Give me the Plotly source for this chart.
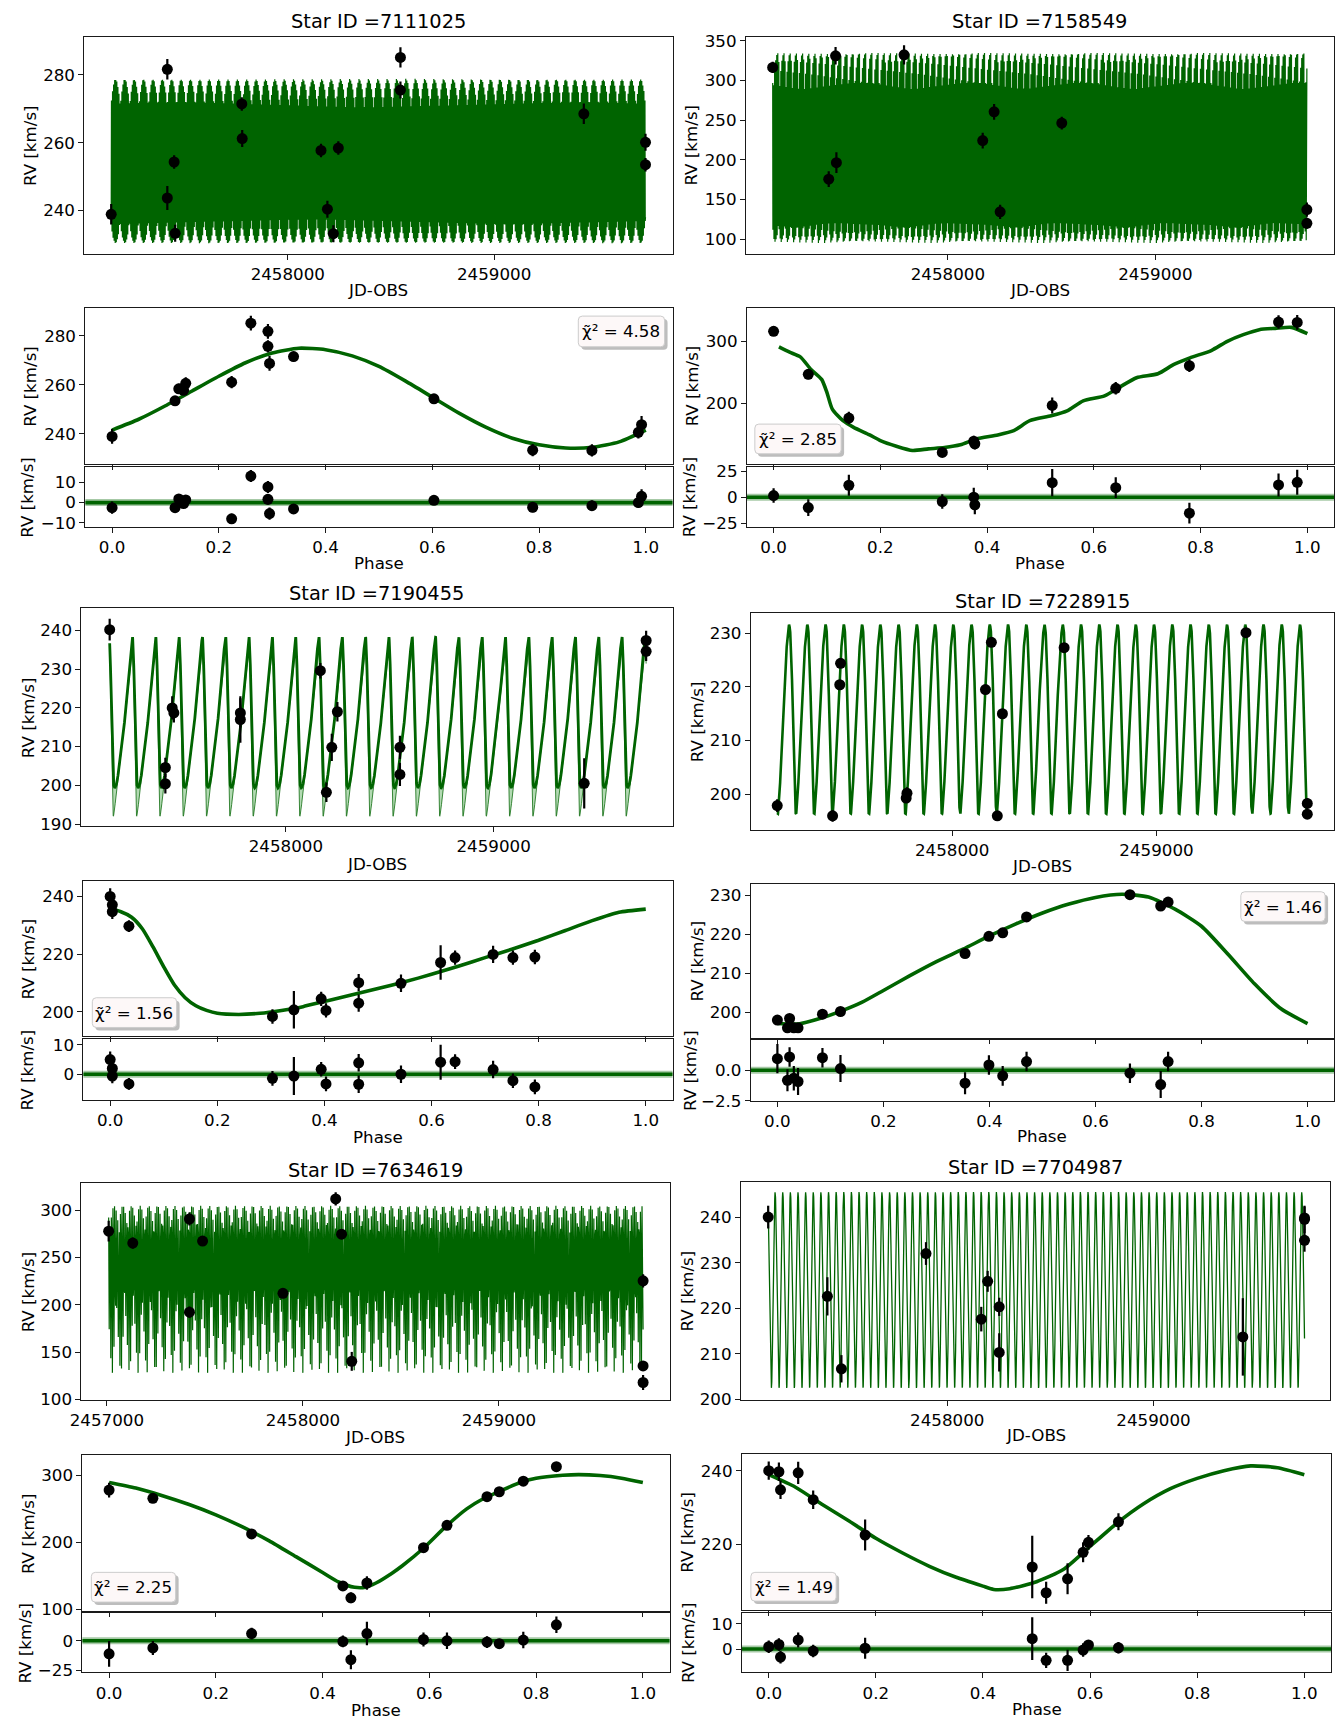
import numpy as np
import plotly.graph_objects as go

W, H = 1340, 1730
GREEN = "#006400"

# ======================= DATA =======================
star_ids = ["7111025", "7158549", "7190455", "7228915", "7634619", "7704987"]
chi2_values = ["4.58", "2.85", "1.56", "1.46", "2.25", "1.49"]

# ---- Star 7111025 ----
s1_jd = [2457144, 2457416, 2457416, 2457449, 2457454, 2457777, 2457779, 2458161,
         2458192, 2458221, 2458245, 2458546, 2458546, 2459435, 2459734, 2459734]
s1_rv = [238.9, 281.6, 243.7, 254.3, 233.3, 271.4, 261.2, 257.7,
         240.4, 233.2, 258.4, 285.1, 275.5, 268.5, 260.1, 253.5]
s1_rv_err = [3.0, 3.0, 3.5, 2.0, 2.5, 2.0, 2.5, 2.0, 2.5, 2.5, 2.0, 3.0, 2.5, 3.0, 2.5, 2.0]
s1_phase = [0.0, 0.118, 0.125, 0.134, 0.138, 0.224, 0.260, 0.292,
            0.292, 0.295, 0.340, 0.603, 0.788, 0.899, 0.986, 0.992]
s1_phase_rv = [239.0, 253.5, 258.4, 257.8, 260.6, 261.1, 285.1, 281.8,
               275.7, 268.7, 271.5, 254.3, 233.4, 233.3, 240.7, 243.8]
s1_phase_err = [3.0, 2.0, 2.0, 2.0, 2.5, 2.5, 3.0, 3.0, 2.5, 3.0, 2.0, 2.0, 2.5, 2.5, 2.5, 3.5]
s1_resid = [-2.5, -2.5, 1.8, -0.5, 1.3, -8.0, 13.1, 7.7, 1.6, -5.4, -3.1, 1.1, -2.3, -1.5, 0.0, 3.1]
s1_model_phase = [0.0, 0.05, 0.10, 0.15, 0.20, 0.25, 0.30, 0.35, 0.40, 0.45, 0.50,
                  0.55, 0.60, 0.65, 0.70, 0.75, 0.80, 0.85, 0.90, 0.95, 1.0]
s1_model_rv = [241.6, 246.0, 251.5, 257.5, 263.5, 269.0, 273.0, 274.9, 274.3, 271.8, 267.5,
               261.5, 255.0, 248.5, 242.8, 238.3, 235.6, 234.3, 234.6, 236.8, 241.6]
s1_ts_model_rv = [239.1, 244.4, 250.9, 258.1, 265.2, 271.7, 276.5, 278.8, 278.0, 275.1, 270.0,
                  262.8, 255.1, 247.3, 240.6, 235.2, 232.0, 230.4, 230.8, 233.4, 239.1]
s1_period = 5.039
s1_t0 = 2457144

# ---- Star 7158549 ----
s2_jd = [2457156, 2457426, 2457459, 2457463, 2457789, 2458168, 2458223, 2458252,
         2458549, 2459730, 2459730]
s2_rv = [316.7, 175.7, 331.3, 196.5, 332.5, 224.4, 260.6, 134.5, 246.4, 137.4, 120.0]
s2_rv_err = [7, 10, 11, 13, 12, 10, 10, 9, 8, 9, 7]
s2_phase = [0.0, 0.065, 0.141, 0.316, 0.375, 0.377, 0.522, 0.641, 0.779, 0.946, 0.981]
s2_phase_rv = [316.6, 247.1, 176.5, 120.9, 139.0, 134.8, 196.8, 224.6, 261.0, 331.6, 331.0]
s2_phase_err = [7, 8, 10, 7, 9, 9, 13, 10, 10, 11, 12]
s2_resid = [1.6, -9.9, 11.5, -4.1, 0.0, -7.3, 14.0, 9.2, -15.3, 11.8, 14.3]
s2_model_phase = [0.01, 0.03, 0.05, 0.07, 0.09, 0.10, 0.11, 0.13, 0.15, 0.18, 0.20, 0.23,
                  0.26, 0.29, 0.32, 0.35, 0.38, 0.42, 0.45, 0.48, 0.52, 0.55, 0.58, 0.62,
                  0.65, 0.68, 0.72, 0.75, 0.78, 0.82, 0.85, 0.88, 0.91, 0.94, 0.97, 1.0]
s2_model_rv = [291.4, 282.9, 275.4, 255.1, 239.0, 217.6, 190.9, 172.2, 161.5, 149.2, 140.1, 131.0,
               124.1, 126.7, 128.9, 133.2, 142.8, 149.2, 156.1, 172.2, 180.2, 188.2, 204.3, 212.3,
               227.3, 241.7, 248.1, 263.1, 273.8, 285.6, 300.5, 311.2, 319.3, 321.4, 323.0, 312.8]
s2_ts_model_rv = [296.9, 286.6, 277.6, 253.1, 233.7, 207.9, 175.7, 153.1, 140.2, 125.4, 114.4, 103.4,
                  95.1, 98.3, 100.9, 106.1, 117.7, 125.4, 133.7, 153.1, 162.8, 172.4, 191.8, 201.5,
                  219.6, 236.9, 244.7, 262.8, 275.7, 289.9, 307.9, 320.8, 330.5, 333.1, 335.0, 322.7]
s2_period = 4.98
s2_t0 = 2457156

# ---- Star 7190455 ----
s3_jd = [2457152, 2457420, 2457420, 2457453, 2457461, 2457781, 2457781, 2458166,
         2458195, 2458221, 2458248, 2458549, 2458549, 2459436, 2459734, 2459734]
s3_rv = [240.2, 204.6, 200.4, 220.0, 218.7, 218.7, 217.0, 229.6,
         198.2, 209.8, 219.0, 209.8, 202.8, 200.5, 237.4, 234.6]
s3_rv_err = [2.8, 2.5, 2.5, 3.0, 2.5, 3.8, 6.0, 2.0, 2.5, 3.5, 2.5, 3.0, 3.0, 6.5, 2.5, 2.5]
s3_phase = [0.0, 0.004, 0.004, 0.035, 0.303, 0.343, 0.394, 0.403,
            0.464, 0.464, 0.543, 0.617, 0.644, 0.715, 0.752, 0.793]
s3_phase_rv = [240.0, 237.1, 234.7, 229.7, 198.4, 200.7, 204.5, 200.5,
               210.1, 203.0, 209.9, 217.1, 218.8, 219.9, 218.8, 219.0]
s3_phase_err = [2.8, 2.5, 2.5, 2.0, 2.5, 6.5, 2.5, 2.5, 3.0, 3.0, 3.0, 6.0, 2.5, 3.0, 2.5, 2.5]
s3_resid = [5.0, 2.0, -0.6, -3.3, -1.4, -0.6, 1.7, -3.3, 3.9, -3.4, 0.0, 4.1, 4.3, 1.6, -2.2, -4.3]
s3_model_phase = [0.0, 0.02, 0.04, 0.06, 0.08, 0.10, 0.12, 0.14, 0.16, 0.18, 0.20, 0.24, 0.28,
                  0.32, 0.36, 0.40, 0.45, 0.50, 0.55, 0.60, 0.65, 0.70, 0.75, 0.80, 0.85,
                  0.90, 0.95, 1.0]
s3_model_rv = [235.6, 234.7, 232.8, 228.8, 222.5, 215.6, 209.3, 204.9, 202.1, 200.5, 199.5, 199.1,
               199.5, 200.5, 201.8, 203.6, 205.8, 208.1, 210.4, 213.0, 215.8, 218.8, 221.7, 224.8,
               228.2, 231.6, 234.5, 235.6]
s3_ts_model_rv = [238.3, 236.5, 233.5, 228.8, 222.5, 215.6, 209.3, 205.0, 202.3, 200.6, 199.7, 199.3,
                  199.7, 200.6, 201.9, 203.7, 205.9, 208.2, 210.6, 213.2, 216.1, 219.2, 222.4, 225.8,
                  229.5, 233.2, 236.6, 238.3]
s3_ts_band_rv = [235.6, 233.5, 229.5, 223.0, 214.5, 205.5, 198.0, 194.0, 192.3, 192.0, 192.6, 194.5,
                 196.5, 198.5, 200.3, 202.3, 204.8, 207.3, 209.8, 212.5, 215.4, 218.4, 221.5, 224.6,
                 228.0, 231.4, 234.2, 235.6]
s3_period = 112.2
s3_t0 = 2457150

# ---- Star 7228915 ----
s4_jd = [2457144, 2457415, 2457450, 2457454, 2457775, 2457779, 2458163,
         2458192, 2458221, 2458246, 2458548, 2459438, 2459738, 2459738]
s4_rv = [197.9, 196.0, 220.4, 224.4, 199.3, 200.2, 219.5,
         228.3, 196.0, 215.0, 227.3, 230.1, 198.3, 196.3]
s4_rv_err = [1.2, 1.1, 0.8, 0.8, 0.8, 1.1, 0.8, 0.8, 0.9, 0.9, 0.8, 0.8, 1.0, 0.8]
s4_phase = [0.0, 0.019, 0.023, 0.031, 0.039, 0.085, 0.119,
            0.354, 0.399, 0.425, 0.470, 0.665, 0.723, 0.737]
s4_phase_rv = [198.0, 196.0, 198.4, 196.0, 196.0, 199.5, 200.2,
               215.1, 219.5, 220.4, 224.5, 230.2, 227.3, 228.3]
s4_phase_err = [1.2, 0.9, 0.8, 1.0, 1.1, 0.8, 1.1, 0.9, 0.8, 0.8, 0.8, 0.8, 1.1, 0.8]
s4_resid = [0.95, -0.82, 1.09, -0.65, -0.92, 1.03, 0.14, -1.06, 0.43, -0.46, 0.71, -0.24, -1.17, 0.71]
s4_model_phase = [0.0, 0.04, 0.08, 0.12, 0.16, 0.20, 0.25, 0.30, 0.35, 0.40, 0.45, 0.50,
                  0.55, 0.60, 0.65, 0.70, 0.75, 0.80, 0.85, 0.90, 0.95, 1.0]
s4_model_rv = [197.1, 197.0, 198.4, 200.3, 202.6, 205.6, 209.4, 213.0, 216.2, 219.6, 222.7, 225.5,
               227.8, 229.5, 230.3, 229.6, 226.5, 222.1, 214.9, 207.3, 200.9, 197.1]
s4_ts_model_rv = [196.5, 196.4, 197.9, 199.9, 202.3, 205.5, 209.5, 213.3, 216.7, 220.3, 223.6, 226.5,
                  229.0, 230.8, 231.6, 230.9, 227.6, 222.9, 215.3, 207.3, 200.5, 196.5]
s4_period = 89.3
s4_t0 = 2457144

# ---- Star 7634619 ----
s5_jd = [2457009, 2457132, 2457421, 2457421, 2457488, 2457898, 2458167, 2458197,
         2458249, 2459735, 2459735, 2459735]
s5_rv = [278.0, 265.4, 290.9, 192.3, 267.5, 212.2, 312.2, 274.8, 140.2, 225.5, 135.3, 117.8]
s5_rv_err = [11, 6, 7, 6, 5, 5, 7, 3, 10, 7, 5, 8]
s5_phase = [0.0, 0.082, 0.267, 0.438, 0.453, 0.483, 0.589, 0.633, 0.708, 0.731, 0.776, 0.838]
s5_phase_rv = [277.9, 265.6, 212.5, 134.9, 117.2, 139.3, 191.9, 225.3, 268.1, 275.4, 291.2, 312.8]
s5_phase_err = [11, 6, 5, 5, 8, 10, 6, 7, 5, 3, 7, 7]
s5_resid = [-11.1, -6.1, 6.1, -0.6, -16.1, 6.1, 1.1, 0.0, -1.1, -2.5, 0.6, 13.6]
s5_model_phase = [0.0, 0.05, 0.10, 0.15, 0.20, 0.25, 0.30, 0.35, 0.40, 0.43, 0.46, 0.48, 0.50,
                  0.53, 0.55, 0.59, 0.63, 0.67, 0.70, 0.73, 0.77, 0.80, 0.85, 0.88, 0.92,
                  0.96, 1.0]
s5_model_rv = [289.2, 280.8, 269.5, 256.3, 241.0, 222.9, 202.2, 178.6, 155.0, 140.8, 132.9, 132.9,
               139.3, 154.0, 165.4, 191.9, 222.9, 249.9, 264.6, 275.4, 289.2, 295.6, 300.0, 301.0,
               299.5, 295.6, 289.2]
s5_ts_model_rv = [292.6, 283.7, 271.8, 257.9, 241.8, 222.8, 201.0, 176.1, 151.3, 136.3, 128.0, 128.0,
                  134.7, 150.2, 162.2, 190.1, 222.8, 251.2, 266.7, 278.1, 292.6, 299.3, 304.0, 305.0,
                  303.4, 299.3, 292.6]
s5_period = 7.71
s5_t0 = 2457009

# ---- Star 7704987 ----
s6_jd = [2457132, 2457419, 2457487, 2457897, 2458165, 2458196, 2458252, 2458252,
         2459433, 2459732, 2459732, 2459732]
s6_rv = [240.0, 222.6, 206.7, 232.0, 217.6, 225.9, 220.3, 210.3, 213.7, 239.8, 239.5, 234.9]
s6_rv_err = [2.5, 4.2, 3.0, 2.5, 2.7, 2.3, 2.0, 4.2, 8.5, 2.5, 3.0, 2.5]
s6_phase = [0.0, 0.019, 0.022, 0.055, 0.083, 0.180, 0.492, 0.518, 0.558, 0.587, 0.597, 0.653]
s6_phase_rv = [240.0, 239.7, 234.8, 239.4, 232.1, 222.5, 213.8, 206.8, 210.6, 217.8, 220.5, 226.1]
s6_phase_err = [2.5, 2.5, 2.5, 3.0, 2.5, 4.2, 8.5, 3.0, 4.2, 2.7, 2.0, 2.3]
s6_resid = [0.9, 1.8, -3.2, 3.6, -0.8, 0.3, 4.1, -4.5, -4.5, -0.4, 1.6, 0.5]
s6_model_phase = [0.0, 0.05, 0.10, 0.15, 0.20, 0.25, 0.30, 0.35, 0.40, 0.42, 0.45, 0.50,
                  0.55, 0.60, 0.65, 0.70, 0.75, 0.80, 0.85, 0.90, 0.95, 1.0]
s6_model_rv = [238.9, 235.5, 230.8, 226.3, 221.6, 217.6, 214.0, 211.0, 208.6, 207.7, 207.9, 209.8,
               213.1, 219.4, 225.7, 231.0, 235.1, 237.9, 240.0, 241.3, 240.8, 238.9]
s6_ts_model_rv = [242.4, 238.1, 232.1, 226.3, 220.3, 215.2, 210.6, 206.7, 203.7, 202.5, 202.8, 205.2,
                  209.4, 217.5, 225.5, 232.3, 237.6, 241.2, 243.8, 245.5, 244.9, 242.4]
s6_period = 37.0
s6_t0 = 2457132

stars = [
    dict(jd=s1_jd, rv=s1_rv, err=s1_rv_err, ph=s1_phase, prv=s1_phase_rv, perr=s1_phase_err,
         res=s1_resid, mph=s1_model_phase, mrv=s1_model_rv, tsrv=s1_ts_model_rv, band=None,
         P=s1_period, t0=s1_t0),
    dict(jd=s2_jd, rv=s2_rv, err=s2_rv_err, ph=s2_phase, prv=s2_phase_rv, perr=s2_phase_err,
         res=s2_resid, mph=s2_model_phase, mrv=s2_model_rv, tsrv=s2_ts_model_rv, band=None,
         P=s2_period, t0=s2_t0),
    dict(jd=s3_jd, rv=s3_rv, err=s3_rv_err, ph=s3_phase, prv=s3_phase_rv, perr=s3_phase_err,
         res=s3_resid, mph=s3_model_phase, mrv=s3_model_rv, tsrv=s3_ts_model_rv, band=s3_ts_band_rv,
         P=s3_period, t0=s3_t0),
    dict(jd=s4_jd, rv=s4_rv, err=s4_rv_err, ph=s4_phase, prv=s4_phase_rv, perr=s4_phase_err,
         res=s4_resid, mph=s4_model_phase, mrv=s4_model_rv, tsrv=s4_ts_model_rv, band=None,
         P=s4_period, t0=s4_t0),
    dict(jd=s5_jd, rv=s5_rv, err=s5_rv_err, ph=s5_phase, prv=s5_phase_rv, perr=s5_phase_err,
         res=s5_resid, mph=s5_model_phase, mrv=s5_model_rv, tsrv=s5_ts_model_rv, band=None,
         P=s5_period, t0=s5_t0),
    dict(jd=s6_jd, rv=s6_rv, err=s6_rv_err, ph=s6_phase, prv=s6_phase_rv, perr=s6_phase_err,
         res=s6_resid, mph=s6_model_phase, mrv=s6_model_rv, tsrv=s6_ts_model_rv, band=None,
         P=s6_period, t0=s6_t0),
]

# ======================= STYLE / LAYOUT (pixels) =======================
ts_style = [
    dict(n=2000, width=1.2),
    dict(n=2500, width=1.2),
    dict(n=9000, width=2.8),
    dict(n=9000, width=2.6),
    dict(n=1000, width=1.2),
    dict(n=9000, width=1.3),
]

# boxes: (left, top, right, bottom)
geom = [
    dict(ts=(74, 31, 667, 250), ph=(75, 305, 667, 462), rs=(75, 465, 667, 526),
         title_y=16, jd_y=287, phl_y=562, lab_x=(19, 19, 16),
         chi=(572, 313, 659, 344)),
    dict(ts=(741, 31, 1334, 250), ph=(742, 305, 1334, 462), rs=(742, 465, 1334, 526),
         title_y=16, jd_y=287, phl_y=562, lab_x=(686, 687, 684),
         chi=(750, 422, 837, 452)),
    dict(ts=(71, 608, 667, 828), ph=(73, 883, 667, 1040), rs=(73, 1043, 667, 1104),
         title_y=593, jd_y=866, phl_y=1142, lab_x=(17, 17, 16),
         chi=(82, 1001, 167, 1031)),
    dict(ts=(746, 613, 1334, 832), ph=(746, 886, 1334, 1042), rs=(746, 1044, 1334, 1105),
         title_y=601, jd_y=868, phl_y=1141, lab_x=(691, 692, 684),
         chi=(1240, 894, 1325, 924)),
    dict(ts=(71, 1188, 664, 1407), ph=(72, 1463, 664, 1620), rs=(72, 1622, 664, 1682),
         title_y=1175, jd_y=1444, phl_y=1720, lab_x=(17, 17, 14),
         chi=(81, 1581, 166, 1611)),
    dict(ts=(736, 1187, 1330, 1407), ph=(737, 1462, 1331, 1619), rs=(737, 1622, 1331, 1682),
         title_y=1172, jd_y=1442, phl_y=1719, lab_x=(682, 682, 682),
         chi=(746, 1581, 832, 1610)),
]

ranges = [
    dict(tsx=[2457014, 2459865], tsy=[227.3, 291.2], tsyt=[240, 260, 280], tsxt=[2458000, 2459000],
         phy=[227.9, 291.2], phyt=[240, 260, 280], rsy=[-12.1, 17.7], rsyt=[-10, 0, 10]),
    dict(tsx=[2457027, 2459861], tsy=[81.7, 355.4], tsyt=[100, 150, 200, 250, 300, 350], tsxt=[2458000, 2459000],
         phy=[102.7, 354.0], phyt=[200, 300], rsy=[-28.7, 29.3], rsyt=[-25, 0, 25]),
    dict(tsx=[2457016, 2459861], tsy=[189.4, 245.7], tsyt=[190, 200, 210, 220, 230, 240], tsxt=[2458000, 2459000],
         phy=[191.5, 245.4], phyt=[200, 220, 240], rsy=[-8.7, 11.9], rsyt=[0, 10]),
    dict(tsx=[2457015, 2459869], tsy=[193.3, 233.7], tsyt=[200, 210, 220, 230], tsxt=[2458000, 2459000],
         phy=[193.3, 233.0], phyt=[200, 210, 220, 230], rsy=[-2.5, 2.45], rsyt=[-2.5, 0.0]),
    dict(tsx=[2456870, 2459870], tsy=[99.3, 329.0], tsyt=[100, 150, 200, 250, 300], tsxt=[2457000, 2458000, 2459000],
         phy=[97.5, 329.5], phyt=[100, 200, 300], rsy=[-26.9, 23.6], rsyt=[-25, 0]),
    dict(tsx=[2457000, 2459856], tsy=[199.85, 247.7], tsyt=[200, 210, 220, 230, 240], tsxt=[2458000, 2459000],
         phy=[202.1, 244.4], phyt=[220, 240], rsy=[-9.3, 14.3], rsyt=[0, 10]),
]

FONT = "DejaVu Sans"
TICK_SIZE = 16.7
LABEL_SIZE = 16.7
TITLE_SIZE = 19.4


def xd(l, r):
    return [l / W, r / W]


def yd(t, b):
    return [1 - b / H, 1 - t / H]


def px(x):
    return x / W


def py(y):
    return 1 - y / H


def fmt_ticks(vals, decimals=None):
    out = []
    for v in vals:
        s = f"{v:.{decimals}f}" if decimals is not None else f"{v:g}"
        out.append(s.replace("-", "\u2212"))
    return out


fig = go.Figure()
layout = dict(width=W, height=H, margin=dict(l=0, r=0, t=0, b=0),
              paper_bgcolor="white", plot_bgcolor="white", showlegend=False,
              font=dict(family=FONT, color="black"))
annotations = []
shapes = []

axis_common = dict(showline=True, linecolor="#1a1a1a", linewidth=1.1, mirror=True,
                   ticks="outside", ticklen=5, tickwidth=1.1, tickcolor="#1a1a1a",
                   showgrid=False, zeroline=False,
                   tickfont=dict(family=FONT, size=TICK_SIZE, color="black"))

phase_ticks = [0.0, 0.2, 0.4, 0.6, 0.8, 1.0]


def rrect(l, t, rr, b, rad=4):
    def P(xp, yp):
        return f"{px(xp):.5f},{py(yp):.5f}"
    return (f"M {P(l + rad, t)} L {P(rr - rad, t)} Q {P(rr, t)} {P(rr, t + rad)} "
            f"L {P(rr, b - rad)} Q {P(rr, b)} {P(rr - rad, b)} L {P(l + rad, b)} "
            f"Q {P(l, b)} {P(l, b - rad)} L {P(l, t + rad)} Q {P(l, t)} {P(l + rad, t)} Z")


for k, (s, g, r, st) in enumerate(zip(stars, geom, ranges, ts_style)):
    a_ts, a_ph, a_rs = 3 * k + 1, 3 * k + 2, 3 * k + 3
    n_ts, n_ph, n_rs = [("" if a == 1 else str(a)) for a in (a_ts, a_ph, a_rs)]

    # --- time series model: the fitted curve repeated with the orbital period ---
    t_dense = np.linspace(min(s["jd"]), max(s["jd"]), st["n"])
    ph_dense = np.mod((t_dense - s["t0"]) / s["P"], 1.0)
    rv_dense = np.interp(ph_dense, s["mph"], s["tsrv"])
    if s["band"] is not None:
        band_dense = np.interp(ph_dense, s["mph"], s["band"])
        fig.add_trace(go.Scatter(x=t_dense, y=band_dense, mode="lines",
                                 line=dict(color="rgba(0,100,0,0.75)", width=1.0),
                                 xaxis="x" + n_ts, yaxis="y" + n_ts, hoverinfo="skip"))
        fig.add_trace(go.Scatter(x=t_dense, y=rv_dense, mode="lines", fill="tonexty",
                                 fillcolor="rgba(0,128,0,0.30)",
                                 line=dict(color="rgba(0,100,0,0.0)", width=0),
                                 xaxis="x" + n_ts, yaxis="y" + n_ts, hoverinfo="skip"))
    fig.add_trace(go.Scatter(x=t_dense, y=rv_dense, mode="lines",
                             line=dict(color=GREEN, width=st["width"]),
                             xaxis="x" + n_ts, yaxis="y" + n_ts, hoverinfo="skip"))
    fig.add_trace(go.Scatter(x=s["jd"], y=s["rv"], mode="markers",
                             marker=dict(color="black", size=11),
                             error_y=dict(type="data", array=s["err"], color="black",
                                          thickness=2.2, width=0),
                             xaxis="x" + n_ts, yaxis="y" + n_ts))

    # --- phase-folded model ---
    fig.add_trace(go.Scatter(x=s["mph"], y=s["mrv"], mode="lines",
                             line=dict(color=GREEN, width=3.6, shape="spline", smoothing=0.6),
                             xaxis="x" + n_ph, yaxis="y" + n_ph, hoverinfo="skip"))
    fig.add_trace(go.Scatter(x=s["ph"], y=s["prv"], mode="markers",
                             marker=dict(color="black", size=11),
                             error_y=dict(type="data", array=s["perr"], color="black",
                                          thickness=2.2, width=0),
                             xaxis="x" + n_ph, yaxis="y" + n_ph))

    # --- residuals ---
    shapes.append(dict(type="line", xref="x" + n_rs + " domain", yref="y" + n_rs,
                       x0=0, x1=1, y0=0, y1=0, layer="below",
                       line=dict(color="rgba(0,100,0,0.35)", width=7)))
    shapes.append(dict(type="line", xref="x" + n_rs + " domain", yref="y" + n_rs,
                       x0=0, x1=1, y0=0, y1=0, layer="below",
                       line=dict(color=GREEN, width=3.6)))
    fig.add_trace(go.Scatter(x=s["ph"], y=s["res"], mode="markers",
                             marker=dict(color="black", size=11),
                             error_y=dict(type="data", array=s["perr"], color="black",
                                          thickness=2.2, width=0),
                             xaxis="x" + n_rs, yaxis="y" + n_rs))

    # --- axes ---
    L, T, R, B = g["ts"]
    layout["xaxis" + n_ts] = dict(axis_common, domain=xd(L, R), range=r["tsx"], anchor="y" + n_ts,
                                  tickvals=r["tsxt"], ticktext=[str(v) for v in r["tsxt"]])
    layout["yaxis" + n_ts] = dict(axis_common, domain=yd(T, B), range=r["tsy"], anchor="x" + n_ts,
                                  tickvals=r["tsyt"], ticktext=fmt_ticks(r["tsyt"]))
    L2, T2, R2, B2 = g["ph"]
    layout["xaxis" + n_ph] = dict(axis_common, domain=xd(L2, R2), range=[-0.05, 1.05], anchor="y" + n_ph,
                                  tickvals=phase_ticks, showticklabels=False)
    layout["yaxis" + n_ph] = dict(axis_common, domain=yd(T2, B2), range=r["phy"], anchor="x" + n_ph,
                                  tickvals=r["phyt"], ticktext=fmt_ticks(r["phyt"]))
    L3, T3, R3, B3 = g["rs"]
    dec = 1 if k == 3 else None
    layout["xaxis" + n_rs] = dict(axis_common, domain=xd(L3, R3), range=[-0.05, 1.05], anchor="y" + n_rs,
                                  tickvals=phase_ticks, ticktext=fmt_ticks(phase_ticks, 1))
    layout["yaxis" + n_rs] = dict(axis_common, domain=yd(T3, B3), range=r["rsy"], anchor="x" + n_rs,
                                  tickvals=r["rsyt"], ticktext=fmt_ticks(r["rsyt"], dec))

    # --- text ---
    annotations.append(dict(text="Star ID =" + star_ids[k], x=px((L + R) / 2), y=py(g["title_y"]),
                            xref="paper", yref="paper", showarrow=False, xanchor="center", yanchor="middle",
                            font=dict(size=TITLE_SIZE, family=FONT, color="black")))
    annotations.append(dict(text="JD-OBS", x=px((L + R) / 2), y=py(g["jd_y"]),
                            xref="paper", yref="paper", showarrow=False, xanchor="center", yanchor="middle",
                            font=dict(size=LABEL_SIZE, family=FONT, color="black")))
    annotations.append(dict(text="Phase", x=px((L3 + R3) / 2), y=py(g["phl_y"]),
                            xref="paper", yref="paper", showarrow=False, xanchor="center", yanchor="middle",
                            font=dict(size=LABEL_SIZE, family=FONT, color="black")))
    for (bx, (t_, b_)) in zip(g["lab_x"], [(T, B), (T2, B2), (T3, B3)]):
        annotations.append(dict(text="RV [km/s]", x=px(bx), y=py((t_ + b_) / 2), textangle=-90,
                                xref="paper", yref="paper", showarrow=False,
                                xanchor="center", yanchor="middle",
                                font=dict(size=LABEL_SIZE, family=FONT, color="black")))

    # --- reduced chi^2 box ---
    cl, ct, cr, cb = g["chi"]
    shapes.append(dict(type="path", xref="paper", yref="paper", path=rrect(cl + 3, ct + 3, cr + 3, cb + 3),
                       fillcolor="#bdbdbd", line=dict(width=0), layer="above"))
    shapes.append(dict(type="path", xref="paper", yref="paper", path=rrect(cl, ct, cr, cb),
                       fillcolor="#fdf8f8", line=dict(color="#cccccc", width=1), layer="above"))
    annotations.append(dict(text="\u03c7\u0303\u00b2 = " + chi2_values[k],
                            x=px((cl + cr) / 2), y=py((ct + cb) / 2),
                            xref="paper", yref="paper", showarrow=False,
                            xanchor="center", yanchor="middle",
                            font=dict(size=16.7, family=FONT, color="black")))

layout["annotations"] = annotations
layout["shapes"] = shapes
fig.update_layout(**layout)
fig.write_html("out.html")
